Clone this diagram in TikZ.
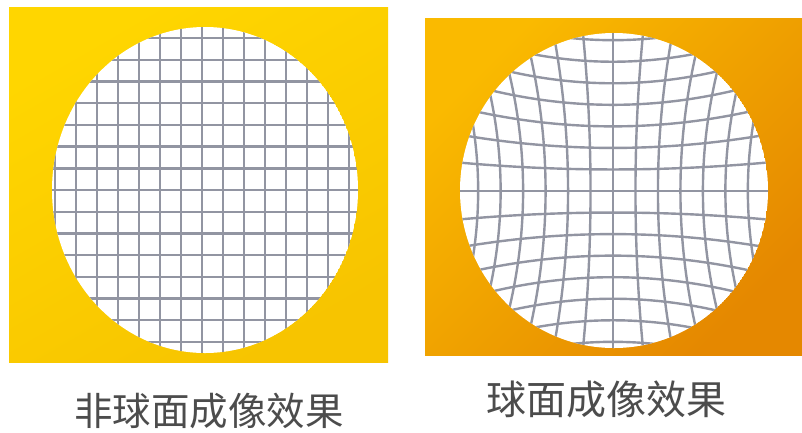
\documentclass[tikz,border=0pt]{standalone}
\usepackage{fontspec}
\newfontfamily\cjk{Noto Sans CJK SC}
\definecolor{gridgray}{RGB}{146,149,162}
\definecolor{captiongray}{RGB}{76,76,76}
\definecolor{yellowA}{RGB}{255,214,0}
\definecolor{yellowB}{RGB}{247,196,0}
\definecolor{orangeA}{RGB}{250,186,0}
\definecolor{orangeB}{RGB}{229,136,0}
\tikzset{
  gridline/.style={draw=gridgray, line width=2.4pt},
  caption/.style={text=captiongray, inner sep=0pt, anchor=base},
}
\begin{document}
\begin{tikzpicture}[x=1pt,y=-1pt]
  \useasboundingbox (0,0) rectangle (802,432);
  \fill[white] (0,0) rectangle (802,432);

  % aspheric lens: square panel with undistorted grid
  \shade[top color=yellowA, bottom color=yellowB, shading angle=30]
    (9,7) rectangle (388,362);
  \begin{scope}
    \clip (205,190) ellipse [x radius=153, y radius=163];
    \fill[white] (205,190) ellipse [x radius=153, y radius=163];
    \foreach \n in {-8,...,8} {
      \draw[gridline] ({202+21*\n},20) -- ({202+21*\n},360);
      \draw[gridline] (45,{190+21.7*\n}) -- (365,{190+21.7*\n});
    }
  \end{scope}
  \node[caption, font=\cjk\fontsize{38.5}{40}\selectfont] (capA) at (209,425) {非球面成像效果};

  % spherical lens: square panel with pincushion-distorted grid
  \shade[top color=orangeA, bottom color=orangeB, shading angle=45]
    (425,18) rectangle (802,355);
  \begin{scope}
    \clip (614,190.5) ellipse [x radius=154, y radius=157.5];
    \fill[white] (614,190.5) ellipse [x radius=154, y radius=157.5];
    \pgfmathsetmacro{\k}{0.33}
    \foreach \n in {-8,...,8} {
      \pgfmathsetmacro{\u}{0.145*\n}
      \draw[gridline] plot[domain=-1.2:1.2, samples=49, variable=\t, smooth]
        ({613+155*\u*(1+\k*\t*\t)}, {191+155*\t*(1+\k*\u*\u)});
      \pgfmathsetmacro{\v}{0.139*\n}
      \draw[gridline] plot[domain=-1.2:1.2, samples=49, variable=\t, smooth]
        ({613+155*\t*(1+\k*\v*\v)}, {191+155*\v*(1+\k*\t*\t)});
    }
  \end{scope}
  \node[caption, font=\cjk\fontsize{40}{42}\selectfont] (capB) at (606,414) {球面成像效果};
\end{tikzpicture}
\end{document}
